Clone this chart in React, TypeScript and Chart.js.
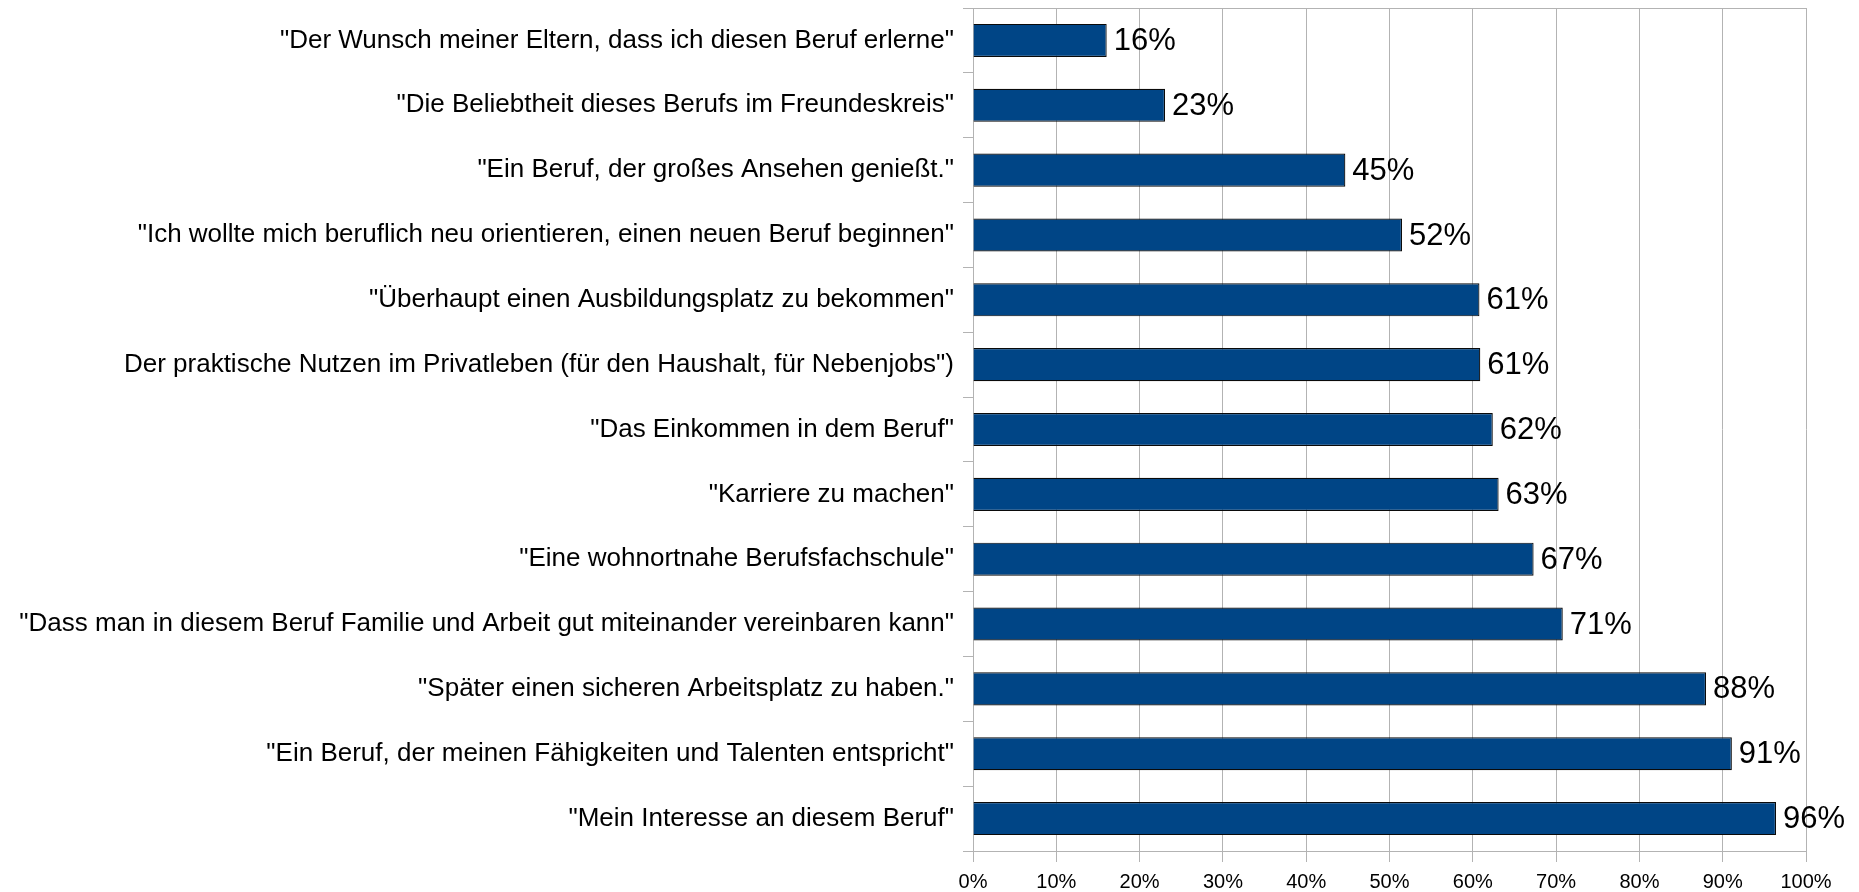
import React, { useEffect, useRef } from "react";
import { Chart, registerables } from "chart.js";

Chart.register(...registerables);

const categories: string[] = [
  "\"Der Wunsch meiner Eltern, dass ich diesen Beruf erlerne\"",
  "\"Die Beliebtheit dieses Berufs im Freundeskreis\"",
  "\"Ein Beruf, der großes Ansehen genießt.\"",
  "\"Ich wollte mich beruflich neu orientieren, einen neuen Beruf beginnen\"",
  "\"Überhaupt einen Ausbildungsplatz zu bekommen\"",
  "Der praktische Nutzen im Privatleben (für den Haushalt, für Nebenjobs\")",
  "\"Das Einkommen in dem Beruf\"",
  "\"Karriere zu machen\"",
  "\"Eine wohnortnahe Berufsfachschule\"",
  "\"Dass man in diesem Beruf Familie und Arbeit gut miteinander vereinbaren kann\"",
  "\"Später einen sicheren Arbeitsplatz zu haben.\"",
  "\"Ein Beruf, der meinen Fähigkeiten und Talenten entspricht\"",
  "\"Mein Interesse an diesem Beruf\"",
];

const values: number[] = [16.05, 23.05, 44.7, 51.5, 60.8, 60.9, 62.4, 63.1, 67.3, 70.8, 88.0, 91.1, 96.4];
const valueLabels: string[] = ["16%", "23%", "45%", "52%", "61%", "61%", "62%", "63%", "67%", "71%", "88%", "91%", "96%"];

const FONT = "'Liberation Sans', Arial, sans-serif";
const GRID = "#b3b3b3";

const labelPlugin = {
  id: "valueLabels",
  afterDatasetsDraw(chart: any) {
    const { ctx } = chart;
    const meta = chart.getDatasetMeta(0);
    ctx.save();
    ctx.font = `31px ${FONT}`;
    ctx.fillStyle = "#000000";
    ctx.textAlign = "left";
    ctx.textBaseline = "middle";
    meta.data.forEach((bar: any, i: number) => {
      ctx.fillText(valueLabels[i], bar.x + 7, bar.y + 1);
    });
    ctx.restore();
  },
};

export default function App() {
  const ref = useRef<HTMLCanvasElement | null>(null);

  useEffect(() => {
    document.body.style.margin = "0";
    document.body.style.overflow = "hidden";
    if (!ref.current) return;
    const chart = new Chart(ref.current, {
      type: "bar",
      data: {
        labels: categories,
        datasets: [
          {
            data: values,
            backgroundColor: "#004586",
            borderColor: "#0a0a0a",
            borderWidth: 1.2,
            categoryPercentage: 1,
            barPercentage: 0.51,
          },
        ],
      },
      options: {
        indexAxis: "y",
        animation: false,
        responsive: true,
        maintainAspectRatio: false,
        layout: { padding: { top: 8, right: 53, left: 0, bottom: 0 } },
        plugins: {
          legend: { display: false },
          tooltip: { enabled: false },
        },
        scales: {
          x: {
            min: 0,
            max: 100,
            ticks: {
              stepSize: 10,
              callback: (v: any) => `${v}%`,
              color: "#000000",
              font: { family: FONT, size: 20 },
              padding: 8,
              maxRotation: 0,
            },
            grid: {
              color: GRID,
              tickColor: GRID,
              tickLength: 11,
              lineWidth: 1,
            },
            border: { color: GRID, width: 1 },
            afterFit: (scale: any) => {
              scale.height = 41;
            },
          },
          y: {
            ticks: {
              color: "#000000",
              font: { family: FONT, size: 26 },
              padding: 9,
            },
            grid: {
              offset: true,
              color: (c: any) => (c.index === 0 ? GRID : "rgba(0,0,0,0)"),
              tickColor: GRID,
              tickLength: 10,
              lineWidth: 1,
            },
            border: { color: GRID, width: 1 },
            afterFit: (scale: any) => {
              scale.width = 973;
              scale.paddingTop = 0;
              scale.paddingBottom = 0;
            },
          },
        },
      },
      plugins: [labelPlugin],
    });
    return () => chart.destroy();
  }, []);

  return (
    <div style={{ width: "1859px", height: "892px", position: "relative" }}>
      <canvas ref={ref} />
    </div>
  );
}
